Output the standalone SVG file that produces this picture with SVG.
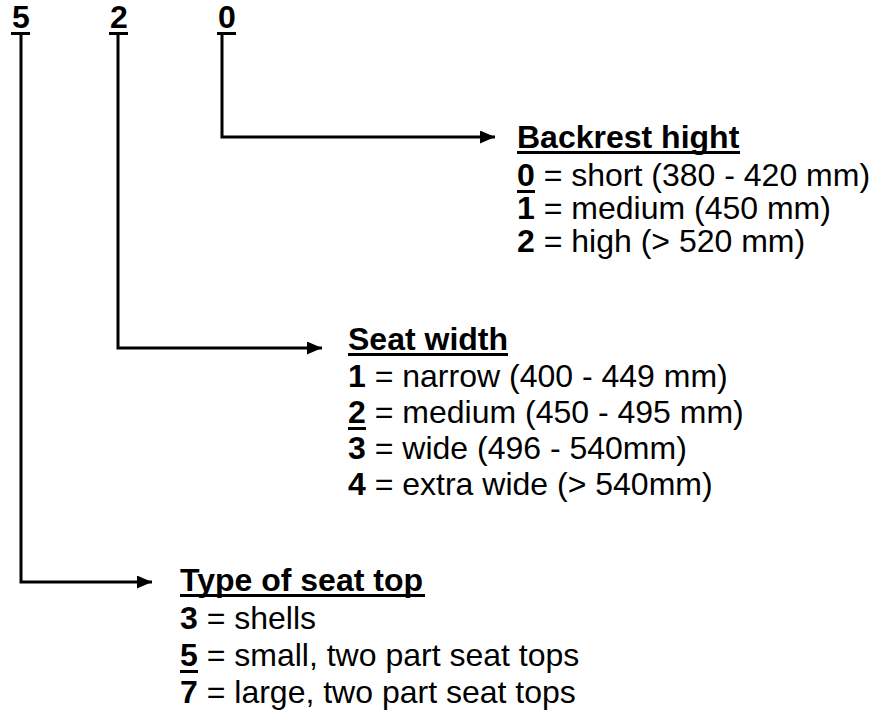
<svg xmlns="http://www.w3.org/2000/svg" width="877" height="720" viewBox="0 0 877 720">
<style>
text{font-family:"Liberation Sans",Arial,sans-serif;font-size:32px;fill:#000}
.b{font-weight:bold}
.ul{fill:#000}
.c{fill:none;stroke:#000;stroke-width:3;stroke-linejoin:miter}
</style>
<defs>
<marker id="ah" markerUnits="userSpaceOnUse" markerWidth="16" markerHeight="13" refX="15" refY="6.5" orient="auto">
<path d="M0,0 L15,6.5 L0,13 Z" fill="#000"/>
</marker>
</defs>
<rect width="877" height="720" fill="#fff"/>
<g id="code">
<g id="digit-5"><text class="b" x="12" y="28">5</text><rect class="ul" x="11" y="32" width="19" height="3"/></g>
<g id="digit-2"><text class="b" x="110" y="28">2</text><rect class="ul" x="109" y="32" width="19" height="3"/></g>
<g id="digit-0"><text class="b" x="218" y="28">0</text><rect class="ul" x="217" y="32" width="19" height="3"/></g>
</g>
<g id="connectors">
<path class="c" d="M222,34 V137 H495" marker-end="url(#ah)"/>
<path class="c" d="M118,34 V348 H322" marker-end="url(#ah)"/>
<path class="c" d="M21,34 V582 H152" marker-end="url(#ah)"/>
</g>
<g id="backrest">
<text class="b" x="517" y="148">Backrest hight</text>
<rect class="ul" x="517" y="151" width="223" height="3"/>
<text x="517" y="186"><tspan class="b">0</tspan> = short (380 - 420 mm)</text>
<rect class="ul" x="517" y="190" width="18" height="3"/>
<text x="517" y="219"><tspan class="b">1</tspan> = medium (450 mm)</text>
<text x="517" y="252"><tspan class="b">2</tspan> = high (&gt; 520 mm)</text>
</g>
<g id="seat-width">
<text class="b" x="348" y="350">Seat width</text>
<rect class="ul" x="348" y="353" width="160" height="3"/>
<text x="348" y="387"><tspan class="b">1</tspan> = narrow (400 - 449 mm)</text>
<text x="348" y="423"><tspan class="b">2</tspan> = medium (450 - 495 mm)</text>
<rect class="ul" x="348" y="427" width="18" height="3"/>
<text x="348" y="459"><tspan class="b">3</tspan> = wide (496 - 540mm)</text>
<text x="348" y="495"><tspan class="b">4</tspan> = extra wide (&gt; 540mm)</text>
</g>
<g id="seat-top">
<text class="b" x="180" y="591">Type of seat top</text>
<rect class="ul" x="180" y="594" width="245" height="3"/>
<text x="180" y="629"><tspan class="b">3</tspan> = shells</text>
<text x="180" y="666"><tspan class="b">5</tspan> = small, two part seat tops</text>
<rect class="ul" x="180" y="670" width="18" height="3"/>
<text x="180" y="703"><tspan class="b">7</tspan> = large, two part seat tops</text>
</g>
</svg>
